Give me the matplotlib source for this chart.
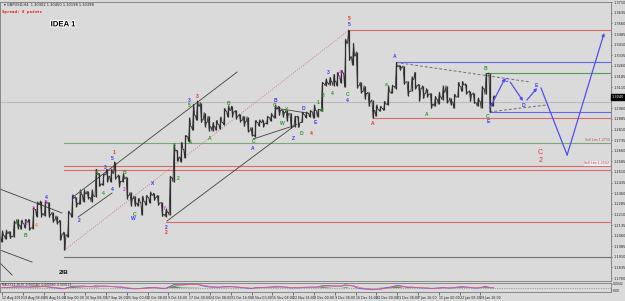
import matplotlib
matplotlib.use('Agg')
import matplotlib.pyplot as plt
import matplotlib.patheffects as pe
import numpy as np
import pandas as pd

# ---------------- data: GBPUSD, one entry per trading day (day 0 = 12 Aug 2019) -------------
first_open = 1.2050
close = [
    1.2060, 1.2075, 1.2055, 1.2150, 1.2135,
    1.2145, 1.2155, 1.2115, 1.2245, 1.2280,
    1.2215, 1.2290, 1.2210, 1.2170, 1.2155,
    1.2070, 1.2065, 1.2215, 1.2330, 1.2290,
    1.2350, 1.2355, 1.2330, 1.2340, 1.2495,
    1.2425, 1.2490, 1.2480, 1.2500, 1.2475,
    1.2445, 1.2465, 1.2345, 1.2320, 1.2290,
    1.2295, 1.2300, 1.2330, 1.2345, 1.2330,
    1.2290, 1.2210, 1.2225, 1.2470, 1.2660,
    1.2615, 1.2670, 1.2760, 1.2830, 1.2910,
    1.2975, 1.2880, 1.2860, 1.2830, 1.2830,
    1.2845, 1.2860, 1.2940, 1.2945, 1.2935,
    1.2905, 1.2875, 1.2865, 1.2800, 1.2770,
    1.2860, 1.2860, 1.2855, 1.2895, 1.2905,
    1.2955, 1.2945, 1.2930, 1.2920, 1.2835,
    1.2900, 1.2860, 1.2915, 1.2925, 1.2935,
    1.2945, 1.2950, 1.3135, 1.3140, 1.3150,
    1.3150, 1.3185, 1.3210, 1.3420, 1.3325,
    1.3330, 1.3120, 1.3080, 1.3065, 1.3010,
    1.2945, 1.2950, 1.2960, 1.2990, 1.3075,
    1.3115, 1.3255, 1.3250, 1.3145, 1.3080,
    1.3165, 1.3120, 1.3100, 1.3065, 1.3060,
    1.2990, 1.3025, 1.3040, 1.3075, 1.3010,
    1.3005, 1.3040, 1.3115, 1.3125, 1.3075,
    1.3060, 1.3000, 1.3010, 1.3100, 1.3205,
    1.2995, 1.3040]
high = [
    1.2095, 1.2100, 1.2090, 1.2165, 1.2175,
    1.2170, 1.2175, 1.2175, 1.2260, 1.2300,
    1.2305, 1.2310, 1.2295, 1.2225, 1.2200,
    1.2170, 1.2085, 1.2235, 1.2350, 1.2335,
    1.2385, 1.2385, 1.2375, 1.2385, 1.2530,
    1.2500, 1.2495, 1.2530, 1.2530, 1.2582,
    1.2490, 1.2500, 1.2475, 1.2365, 1.2340,
    1.2325, 1.2340, 1.2345, 1.2370, 1.2360,
    1.2345, 1.2295, 1.2250, 1.2480, 1.2708,
    1.2665, 1.2720, 1.2770, 1.2895, 1.2989,
    1.3012, 1.3000, 1.2930, 1.2905, 1.2860,
    1.2875, 1.2900, 1.2960, 1.2980, 1.2975,
    1.2945, 1.2920, 1.2905, 1.2900, 1.2825,
    1.2875, 1.2880, 1.2880, 1.2905, 1.2925,
    1.2985, 1.2975, 1.2950, 1.2945, 1.2925,
    1.2905, 1.2905, 1.2935, 1.2935, 1.2945,
    1.2985, 1.2955, 1.3145, 1.3170, 1.3180,
    1.3200, 1.3215, 1.3230, 1.3450, 1.3514,
    1.3420, 1.3360, 1.3145, 1.3120, 1.3075,
    1.3020, 1.2985, 1.2975, 1.3010, 1.3120,
    1.3125, 1.3285, 1.3265, 1.3260, 1.3150,
    1.3185, 1.3215, 1.3130, 1.3120, 1.3100,
    1.3065, 1.3045, 1.3075, 1.3120, 1.3120,
    1.3035, 1.3060, 1.3145, 1.3150, 1.3135,
    1.3085, 1.3070, 1.3035, 1.3115, 1.3207,
    1.3210, 1.3050]
low = [
    1.2015, 1.2035, 1.2040, 1.2050, 1.2110,
    1.2105, 1.2115, 1.2100, 1.2110, 1.2195,
    1.2195, 1.2200, 1.2190, 1.2155, 1.2145,
    1.2030, 1.1958, 1.2050, 1.2190, 1.2265,
    1.2280, 1.2300, 1.2320, 1.2300, 1.2335,
    1.2410, 1.2415, 1.2440, 1.2440, 1.2460,
    1.2405, 1.2440, 1.2320, 1.2270, 1.2270,
    1.2270, 1.2205, 1.2275, 1.2290, 1.2310,
    1.2275, 1.2196, 1.2195, 1.2205, 1.2440,
    1.2585, 1.2580, 1.2610, 1.2725, 1.2805,
    1.2875, 1.2860, 1.2830, 1.2800, 1.2800,
    1.2805, 1.2815, 1.2845, 1.2900, 1.2900,
    1.2885, 1.2865, 1.2835, 1.2795, 1.2765,
    1.2760, 1.2835, 1.2830, 1.2850, 1.2870,
    1.2890, 1.2910, 1.2900, 1.2870, 1.2820,
    1.2830, 1.2825, 1.2860, 1.2895, 1.2900,
    1.2890, 1.2900, 1.2940, 1.3120, 1.3125,
    1.3120, 1.3120, 1.3140, 1.3110, 1.3300,
    1.3265, 1.3105, 1.3070, 1.3025, 1.2975,
    1.2890, 1.2905, 1.2940, 1.2945, 1.2985,
    1.3065, 1.3100, 1.3230, 1.3130, 1.3050,
    1.3080, 1.3100, 1.3015, 1.3030, 1.3040,
    1.2960, 1.2975, 1.2990, 1.3020, 1.3000,
    1.2985, 1.2960, 1.3040, 1.3080, 1.3060,
    1.3010, 1.2995, 1.2975, 1.2960, 1.3060,
    1.2935, 1.2975]
current_price = 1.3040

date_labels = ["12 Aug 2019", "19 Aug 08:00", "26 Aug 16:00", "3 Sep 00:00", "10 Sep 08:00",
               "17 Sep 16:00", "25 Sep 00:00", "2 Oct 08:00", "9 Oct 16:00", "17 Oct 00:00",
               "24 Oct 08:00", "31 Oct 16:00", "8 Nov 00:00", "15 Nov 08:00", "22 Nov 16:00",
               "2 Dec 00:00", "9 Dec 08:00", "16 Dec 16:00", "24 Dec 00:00", "31 Dec 08:00",
               "7 Jan 16:00", "15 Jan 00:00", "22 Jan 08:00", "29 Jan 16:00"]
date_label_days = [k * 16 / 3 for k in range(len(date_labels))]

price_ticks = [round(1.3710 - 0.0075 * k, 4) for k in range(27)]

# horizontal levels
level_prices = [1.3514, 1.3285, 1.3207, 1.3005, 1.2935, 1.2890, 1.2715, 1.2552, 1.2524, 1.2156, 1.1908]
level_start = [89, 101, 124, -1, 125, 95, 16, 16, 16, 42, 16]
level_colors = ['#dd6a6a', '#6464ee', '#4fa04f', '#b9b9b9', '#6464ee', '#dd6a6a',
                '#78a878', '#dd6a6a', '#dd6a6a', '#dd6a6a', '#6e6e6e']

# trend lines (day, price, day, price)
black_lines = [(18.2, 1.2333, 60.3, 1.3217),
               (42.3, 1.2163, 75.6, 1.2849),
               (19.5, 1.2191, 28.2, 1.2361),
               (-0.5, 1.2389, 15.4, 1.2220),
               (-0.5, 1.1958, 7.7, 1.1873),
               (-0.5, 1.1866, 2.6, 1.1781),
               (70.0, 1.2962, 78.2, 1.2927),
               (64.4, 1.2743, 73.8, 1.2828)]
dotted_red_line = (16, 1.1958, 89, 1.3514)
dashed_lines = [(101, 1.3285, 135.5, 1.3146),
                (125, 1.2935, 140, 1.2985)]
blue_arrows = [(125.1, 1.2962, 129.0, 1.3174),
               (130.3, 1.3146, 133.6, 1.3012),
               (134.6, 1.3019, 137.2, 1.3104),
               (144.9, 1.2630, 154.4, 1.3493)]
blue_segments = [(138.2, 1.3104, 144.9, 1.2630)]

R, B, G, M, O = '#e8321e', '#3c3cf0', '#2e9a2e', '#e040e0', '#ff8040'
wave_labels = [
    (89, 1.3595, '5', R), (89, 1.3550, '5', B),
    (95.1, 1.2856, 'A', R), (100.8, 1.3325, 'A', B), (98.5, 1.3132, 'a', G),
    (124, 1.3240, 'B', G), (124.6, 1.2905, 'C', G), (124.8, 1.2866, 'E', B),
    (109, 1.2913, 'A', G), (129.5, 1.3160, 'C', B), (133.6, 1.2980, 'D', B),
    (136.9, 1.3118, 'E', B),
    (28.7, 1.2645, '1', R), (28.4, 1.2605, '5', B), (26.4, 1.2545, '3', B),
    (24.4, 1.2496, '5', G), (20.0, 1.2368, '3', G), (18.2, 1.2333, '1', B),
    (19.7, 1.2170, '2', B), (25.9, 1.2361, '4', G), (28.2, 1.2389, '4', B),
    (31.3, 1.2389, '2', M), (31.3, 1.2503, 'B', G), (34.1, 1.2206, 'C', G),
    (33.6, 1.2180, 'W', B), (38.5, 1.2425, 'X', B), (41.8, 1.2255, 'Y', M),
    (42.0, 1.2085, '2', R), (42.2, 1.2120, '2', B),
    (11.3, 1.2333, '4', B), (11.3, 1.2297, '5', M), (7.9, 1.2255, '3', M),
    (6.2, 1.2149, '1', M), (3.8, 1.2149, '4', G), (5.9, 1.2064, 'B', G), (8.7, 1.2135, '4', O),
    (44.1, 1.2700, '3', G), (45.1, 1.2467, '2', G), (48.2, 1.2715, '4', G),
    (48.0, 1.2983, '5', G), (48.0, 1.3015, '3', B), (50.0, 1.3047, '3', R),
    (53.3, 1.2750, 'A', G), (58.0, 1.2995, 'B', G), (64.4, 1.2722, 'C', G),
    (64.4, 1.2679, 'A', B), (70.0, 1.3012, 'B', B), (70.0, 1.2983, 'C', G),
    (72.0, 1.2856, 'W', G), (73.1, 1.2955, 'X', G), (74.6, 1.2750, 'Z', B),
    (76.9, 1.2785, 'D', G), (77.4, 1.2962, 'D', B), (80.3, 1.2863, 'E', B),
    (79.2, 1.2785, '4', R), (81.0, 1.3000, '1', G), (82.0, 1.2948, '2', G),
    (82.3, 1.3054, '3', G), (83.6, 1.3210, '3', B), (84.6, 1.3068, '4', G),
    (86.7, 1.3210, '4', M), (86.5, 1.3180, '5', M),
    (88.5, 1.3055, 'C', G), (88.5, 1.3015, '4', B),
]
big_labels = [(138.0, 1.2651, 'C', R), (138.0, 1.2594, '2', R)]

# ---------------- figure -------------
BG = '#dadada'
fig = plt.figure(figsize=(6.25, 3.01), dpi=100, facecolor=BG)
W, H = 625, 301
ax = fig.add_axes([0, (H - 281) / H, 611 / W, (281 - 2) / H], facecolor=BG)
ax2 = fig.add_axes([0, (H - 292) / H, 611 / W, (292 - 283) / H], facecolor=BG)

xmin, xmax = -0.51, 156.15
for a in (ax, ax2):
    a.set_xlim(xmin, xmax)
    for sp in a.spines.values():
        sp.set_color('#7a7a7a')
        sp.set_linewidth(0.6)
ax.set_ylim(1.1739, 1.3712)

# levels
for p, s, c in zip(level_prices, level_start, level_colors):
    ax.plot([s, xmax], [p, p], color=c, lw=0.8, zorder=1)

# trendlines
for x1, y1, x2, y2 in black_lines:
    ax.plot([x1, x2], [y1, y2], color='#404040', lw=0.6, zorder=1)
ax.plot(dotted_red_line[::2], dotted_red_line[1::2], color='#d08080', lw=0.7, ls=(0, (1, 1.5)), zorder=1)
for x1, y1, x2, y2 in dashed_lines:
    ax.plot([x1, x2], [y1, y2], color='#707070', lw=0.7, ls=(0, (3, 2)), zorder=1)

# price bars
days = np.arange(len(close))
opens = [first_open] + close[:-1]
xs, ys = [], []
for i, (o, h, l, c) in enumerate(zip(opens, high, low, close)):
    seq = [o, l, h, c] if c >= o else [o, h, l, c]
    xs += [i - 0.4, i - 0.15, i + 0.15, i + 0.4]
    ys += seq
ax.vlines(days, low, high, color='#2e2e2e', lw=0.9, zorder=2)
ax.plot(xs, ys, color='#2e2e2e', lw=0.6, zorder=2)

# blue projection
for x1, y1, x2, y2 in blue_segments:
    ax.plot([x1, x2], [y1, y2], color='#5050ee', lw=0.9, zorder=3)
for x1, y1, x2, y2 in blue_arrows:
    ax.annotate('', xy=(x2, y2), xytext=(x1, y1),
                arrowprops=dict(arrowstyle='-|>', color='#5050ee', lw=0.9,
                                mutation_scale=4, shrinkA=0, shrinkB=0), zorder=3)

# wave labels
for x, y, t, c in wave_labels:
    ax.text(x, y, t, color=c, fontsize=3.6, ha='center', va='center',
            family='Liberation Sans', fontweight='bold', zorder=4)
for x, y, t, c in big_labels:
    ax.text(x, y, t, color=c, fontsize=5, ha='center', va='center',
            family='Liberation Sans', zorder=4)
ax.text(15.7, 1.1800, '2/B', color='#111111', fontsize=4.6, ha='center', va='center',
        family='Liberation Sans', fontweight='bold', zorder=4)

ax.text(0.103, 0.918, 'IDEA 1', transform=ax.transAxes, fontsize=5.6, fontweight='bold',
        family='Liberation Sans', color='black', ha='center', va='center',
        path_effects=[pe.withStroke(linewidth=1.5, foreground='white')], zorder=5)

ax.text(0.006, 0.995, '▾ GBPUSD,H4  1.30302 1.30450 1.30198 1.30398', transform=ax.transAxes,
        fontsize=2.6, color='#202020', ha='left', va='top')
ax.text(0.003, 0.972, 'Spread: 8 points', transform=ax.transAxes, fontsize=3.0,
        color='#ee1111', ha='left', va='top', family='DejaVu Sans Mono', fontweight='bold')

ax.text(155.8, 1.2715 + 0.0008, 'Sell Lim 1.2715', color='#cc4444', fontsize=2.3, ha='right', va='bottom')
ax.text(155.8, 1.2552 + 0.0004, 'Sell Lim 1.2552', color='#cc4444', fontsize=2.3, ha='right', va='bottom',
        bbox=dict(facecolor='#ececec', edgecolor='none', pad=0.3))

# right price axis
ax.yaxis.tick_right()
ax.set_yticks(price_ticks)
ax.set_yticklabels([f'{v:.4f}' for v in price_ticks])
ax.tick_params(axis='y', labelsize=2.5, length=1.0, width=0.4, pad=0.6, colors='#202020')
ax.set_xticks([])
ax.text(1.001, current_price, f'{current_price:.4f}', transform=ax.get_yaxis_transform(),
        fontsize=2.5, color='white', ha='left', va='center',
        bbox=dict(facecolor='black', edgecolor='black', pad=0.5), clip_on=False, zorder=6)

# MACD panel
s = pd.Series(close)
macd = s.ewm(span=3, adjust=False).mean() - s.ewm(span=6, adjust=False).mean()
sig = macd.ewm(span=3, adjust=False).mean()
lim = float(np.abs(macd).max()) * 1.35
ax2.set_ylim(-lim, lim)
ax2.plot([xmin, xmax], [0, 0], color='#707070', lw=0.5, ls=(0, (1, 1.5)))
diff = (macd - sig).values
ax2.fill_between(days, 0, np.where(diff > 0, diff, 0) * 1.5, color='#2e9a2e', lw=0, alpha=0.9)
ax2.plot(days, macd.values, color='#6a5cf0', lw=0.7)
ax2.plot(days, sig.values, color='#ff5a6a', lw=0.5)
ax2.text(0.003, 0.97, 'MACD(12,26,9) -0.000183 -0.000060 -0.000123', transform=ax2.transAxes,
         fontsize=2.1, color='#202020', ha='left', va='top')
ax2.yaxis.tick_right()
ax2.set_yticks([lim * 0.8, -lim * 0.6])
ax2.set_yticklabels(['0.0042', '0.00'])
ax2.tick_params(axis='y', labelsize=2.2, length=1.0, width=0.4, pad=0.6, colors='#202020')

ax2.set_xticks(date_label_days)
ax2.set_xticklabels(date_labels)
ax2.tick_params(axis='x', labelsize=2.3, length=2, width=0.4, pad=0.8, colors='#202020',
                direction='out')
for lab in ax2.get_xticklabels():
    lab.set_ha('left')

fig.savefig('out.png', dpi=100, facecolor=BG)
